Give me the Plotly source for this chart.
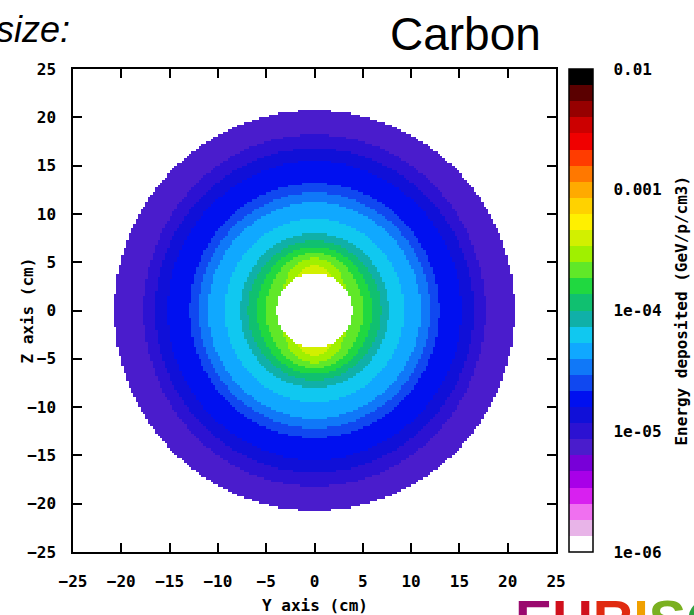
import numpy as np
import plotly.graph_objects as go

# ---- data ----
# radial profile along the horizontal (Y) direction: radius (cm) -> log10(GeV/p/cm3)
r_h = [3.9, 4.5, 5.1, 6.0, 6.9, 7.7, 9.3, 11.0, 12.0, 12.9, 15.2, 16.5, 17.7, 20.7]
logd_h = [-3.62, -3.70, -3.733, -3.867, -4.0, -4.133, -4.267, -4.40, -4.533, -4.667, -4.80, -4.933, -5.067, -5.19]
# radial profile along the vertical (Z) direction
r_v = [3.85, 4.7, 5.4, 6.0, 6.6, 7.2, 8.0, 9.5, 11.2, 12.2, 13.2, 15.5, 16.8, 18.2, 20.7]
logd_v = [-3.35, -3.467, -3.60, -3.733, -3.867, -4.0, -4.133, -4.267, -4.40, -4.533, -4.667, -4.80, -4.933, -5.067, -5.17]
hole_h, hole_v = 3.9, 3.85     # white central hole radius (cm)
outer_radius = 20.7            # target radius (cm)
bin_size = 0.25

# 30-colour palette, from the lowest value (1e-6) to the highest (1e-2)
palette = ["#ffffff", "#e8b4e8", "#f070f0", "#d820f0", "#a800e8", "#7800d8",
           "#4a1ccc", "#2c12d2", "#1010d8", "#0010f0", "#1048f0", "#1078f8",
           "#10a8ff", "#10c8f0", "#10b0a8", "#10c070", "#20d840", "#60e828",
           "#a0f000", "#d2f000", "#fff000", "#ffd200", "#ffaa00", "#ff7800",
           "#ff3c00", "#f00000", "#cc0000", "#960000", "#5a0000", "#000000"]
cb_tickvals = [-6, -5, -4, -3, -2]
cb_ticktext = ["1e-06", "1e-05", "1e-04", "0.001", "0.01"]
axis_ticks = [-25, -20, -15, -10, -5, 0, 5, 10, 15, 20, 25]

# ---- build the binned map ----
centers = np.arange(-25 + bin_size / 2, 25, bin_size)
Y, Z = np.meshgrid(centers, centers)
R = np.hypot(Y, Z)
W = np.where(R > 0, (Z ** 2 / np.maximum(R, 1e-9) ** 2) ** 2, 0)
logd = (1 - W) * np.interp(R, r_h, logd_h) + W * np.interp(R, r_v, logd_v)
hole = (1 - W) * hole_h + W * hole_v
logd = np.where((R < hole) | (R > outer_radius), np.nan, logd)

n = len(palette)
colorscale = []
for i, c in enumerate(palette):
    colorscale.append([i / n, c])
    colorscale.append([(i + 1) / n, c])

mono = dict(family="DejaVu Sans Mono", size=16, color="black", weight="bold")

fig = go.Figure(go.Heatmap(
    x=centers, y=centers, z=logd, zmin=-6, zmax=-2, colorscale=colorscale,
    zsmooth=False, hoverongaps=False,
    colorbar=dict(x=1.027, xanchor="left", xpad=0, y=0.5, yanchor="middle", ypad=0,
                  len=1, lenmode="fraction", thickness=24, thicknessmode="pixels",
                  outlinewidth=1.5, outlinecolor="black",
                  tickvals=cb_tickvals, ticktext=cb_ticktext, ticks="outside",
                  ticklen=17, tickcolor="rgba(0,0,0,0)", tickfont=mono)))

axis_common = dict(range=[-25, 25], tickvals=axis_ticks, ticks="inside", ticklen=9,
                   tickwidth=1.5, tickcolor="black", showline=True, linecolor="black",
                   linewidth=1.5, mirror="allticks", showgrid=False, zeroline=False,
                   tickfont=mono)
fig.update_xaxes(**axis_common, ticklabelstandoff=14)
fig.update_yaxes(**axis_common, ticklabelstandoff=12)

# inner ticks on the colour box
shapes = []
for v in cb_tickvals[1:-1]:
    yy = (v + 6) / 4
    for x0, x1 in [(1.0269, 1.0393), (1.0642, 1.0766)]:
        shapes.append(dict(type="line", xref="paper", yref="paper", x0=x0, x1=x1,
                           y0=yy, y1=yy, line=dict(color="black", width=1.5)))

logo = ("<span style='color:#9a0a6e'>E</span><span style='color:#d0101c'>U</span>"
        "<span style='color:#e02a10'>R</span><span style='color:#f0a000'>I</span>"
        "<span style='color:#7ab020'>S</span><span style='color:#30a040'>O</span>"
        "<span style='color:#2060c0'>L</span>")

annotations = [
    dict(text="Y axis (cm)", x=0.5, y=-0.11, xref="paper", yref="paper",
         showarrow=False, font=mono, xanchor="center", yanchor="middle"),
    dict(text="Z axis (cm)", x=-0.095, y=0.5, xref="paper", yref="paper",
         showarrow=False, font=mono, textangle=-90, xanchor="center", yanchor="middle"),
    dict(text="Energy deposited (GeV/p/cm3)", x=1.259, y=0.5, xref="paper", yref="paper",
         showarrow=False, font=mono, textangle=-90, xanchor="center", yanchor="middle"),
    dict(text="Carbon", x=0.8116, y=1.072, xref="paper", yref="paper", showarrow=False,
         font=dict(family="Liberation Sans", size=46, color="black"),
         xanchor="center", yanchor="middle"),
    dict(text="<i>size:</i>", x=(72 - 73) / 483, y=(552 - 30) / 483, xref="paper", yref="paper",
         showarrow=False, font=dict(family="Liberation Sans", size=36, color="black"),
         xanchor="right", yanchor="middle"),
    dict(text="<b>" + logo + "</b>", x=(513 - 73) / 483, y=(552 - 586) / 483,
         xref="paper", yref="paper", showarrow=False,
         font=dict(family="Liberation Sans", size=56), xanchor="left", yanchor="top"),
]

fig.update_layout(width=694, height=615, margin=dict(l=73, r=138, t=69, b=63),
                  plot_bgcolor="white", paper_bgcolor="white",
                  shapes=shapes, annotations=annotations, showlegend=False)

fig.write_html("out.html")
